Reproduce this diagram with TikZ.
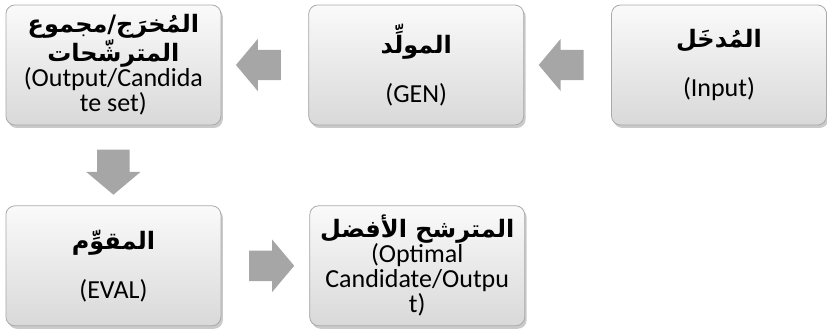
\documentclass[tikz,border=0pt]{standalone}
\usepackage{fontspec}
\setmainfont{Carlito}
\newfontfamily\arabicfont[Script=Arabic]{DejaVu Sans}
\TeXXeTstate=1
\usetikzlibrary{positioning,calc,shapes.arrows,shadows}

\definecolor{arrowgray}{RGB}{166,166,166}
\definecolor{boxedge}{RGB}{170,170,170}

\newcommand{\arline}[1]{{\arabicfont\bfseries\fontsize{24}{28}\selectfont\beginR #1\endR}}

\tikzset{
  stage/.style={rectangle, rounded corners=9pt, draw=boxedge, line width=0.8pt,
    top color=black!2, middle color=white, bottom color=black!15,
    drop shadow={shadow xshift=2pt, shadow yshift=-3pt, opacity=0.35, fill=black!60},
    minimum width=215pt, minimum height=120pt, inner sep=0pt, align=center,
    font=\fontsize{26}{25}\selectfont},
  blockarrow/.style={single arrow, fill=arrowgray, draw=none,
    inner xsep=0pt, inner ysep=15pt,
    minimum height=45pt, minimum width=52pt, single arrow head extend=11pt,
    single arrow tip angle=100},
  downarrow/.style={blockarrow, shape border rotate=270, inner xsep=16pt, inner ysep=0pt},
}

\begin{document}
\begin{tikzpicture}[x=1pt, y=-1pt]
    \useasboundingbox (0,0) rectangle (827,331);

    \node[stage] (input) at (719,65) {\arline{المُدخَل}\\[24pt](Input)} ; %
    \node[stage, left=87pt of input] (gen) {\arline{المولِّد}\\[24pt](GEN)} ; %
    \node[stage, left=87pt of gen] (output) {\arline{المُخرَج/مجموع}\\ \arline{المترشّحات}\\ (Output/Candida\\ te set)} ; %

    \node[stage, below=80pt of output] (eval) {\arline{المقوِّم}\\[24pt](EVAL)} ; %
    \node[stage, right=88pt of eval] (optimal) {\arline{المترشح الأفضل}\\[0pt](Optimal\\ Candidate/Outpu\\ t)} ; %

    \node[blockarrow, shape border rotate=180] (input_gen) at ($ (input.west) !.5! (gen.east) $) {} ; %
    \node[blockarrow, shape border rotate=180] (gen_output) at ($ (gen.west) !.5! (output.east) $) {} ; %
    \node[downarrow] (output_eval) at ($ (output.south) !.5! (eval.north) $) {} ; %
    \node[blockarrow] (eval_optimal) at ($ (eval.east) !.5! (optimal.west) $) {} ; %

\end{tikzpicture}
\end{document}
